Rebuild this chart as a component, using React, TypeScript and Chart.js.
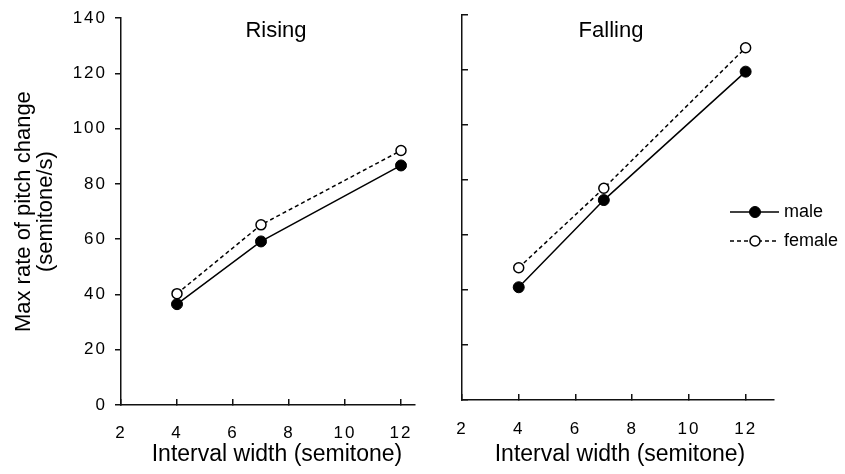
import { useEffect, useRef } from 'react';
import { Chart, registerables } from 'chart.js';

Chart.register(...registerables);

// ---- data ----
const intervals = [4, 7, 12];
const risingMale = [36.5, 59.2, 86.7];
const risingFemale = [40.3, 65.2, 92.1];
const fallingMale = [41.0, 72.7, 119.4];
const fallingFemale = [48.1, 77.0, 128.1];
const xTickValues = [2, 4, 6, 8, 10, 12];
const yTickValues = [0, 20, 40, 60, 80, 100, 120, 140];
const seriesNames = ['male', 'female'];
const panelTitles = ['Rising', 'Falling'];
const xTitle = 'Interval width (semitone)';
const yTitle = ['Max rate of pitch change', '(semitone/s)'];

const FONT = "'Liberation Sans', Arial, Helvetica, sans-serif";
const INK = '#111';

function makeDatasets(male: number[], female: number[]) {
  return [
    {
      label: seriesNames[0],
      data: intervals.map((x, i) => ({ x, y: male[i] })),
      borderColor: '#000',
      borderWidth: 1.5,
      pointRadius: 5.5,
      pointBackgroundColor: '#000',
      pointBorderColor: '#000',
      pointBorderWidth: 1,
      clip: false,
    },
    {
      label: seriesNames[1],
      data: intervals.map((x, i) => ({ x, y: female[i] })),
      borderColor: '#000',
      borderWidth: 1.5,
      borderDash: [4, 3],
      pointRadius: 5,
      pointBackgroundColor: '#fff',
      pointBorderColor: '#000',
      pointBorderWidth: 1.5,
      clip: false,
    },
  ];
}

function makeXScale(max: number, height: number, pad: number) {
  return {
    type: 'linear',
    position: 'bottom',
    min: 2,
    max,
    afterBuildTicks: (s: any) => {
      s.ticks = xTickValues.map((v) => ({ value: v }));
    },
    afterFit: (s: any) => {
      s.height = height;
    },
    grid: { drawOnChartArea: false, drawTicks: true, tickLength: -6, color: INK, lineWidth: 1.5 },
    border: { display: true, color: INK, width: 1.5 },
    ticks: { padding: pad, z: 1, font: { size: 17 }, color: '#000', maxRotation: 0, autoSkip: false },
  };
}

function makeYScale(width: number, showLabels: boolean, tickLength: number) {
  return {
    type: 'linear',
    min: 0,
    max: 140,
    afterBuildTicks: (s: any) => {
      s.ticks = yTickValues.map((v) => ({ value: v }));
    },
    afterFit: (s: any) => {
      s.width = width;
    },
    grid: { drawOnChartArea: false, drawTicks: true, tickLength, color: INK, lineWidth: 1.5 },
    border: { display: true, color: INK, width: 1.5 },
    ticks: { display: showLabels, padding: 8, z: 1, font: { size: 17 }, color: '#000' },
    title: {
      display: showLabels,
      text: yTitle,
      font: { size: 22, lineHeight: 1 },
      padding: { top: 13, bottom: 0 },
      color: '#000',
    },
  };
}

function textPlugin(title: string, titlePos: [number, number], xTitlePos: [number, number], legend: boolean) {
  return {
    id: 'panelText',
    beforeDraw(chart: any) {
      chart.ctx.letterSpacing = '0px';
    },
    afterDatasetsDraw(chart: any) {
      chart.ctx.letterSpacing = '2px';
    },
    afterDraw(chart: any) {
      const ctx = chart.ctx;
      ctx.save();
      ctx.letterSpacing = '0px';
      ctx.fillStyle = '#000';
      ctx.textAlign = 'center';
      ctx.textBaseline = 'middle';
      ctx.font = `22px ${FONT}`;
      ctx.fillText(title, titlePos[0], titlePos[1]);
      ctx.font = `23px ${FONT}`;
      ctx.fillText(xTitle, xTitlePos[0], xTitlePos[1]);
      if (legend) {
        const rows = [212, 241];
        chart.data.datasets.forEach((ds: any, i: number) => {
          const y = rows[i];
          ctx.strokeStyle = ds.borderColor;
          ctx.lineWidth = ds.borderWidth;
          ctx.setLineDash(ds.borderDash || []);
          ctx.beginPath();
          ctx.moveTo(730, y);
          ctx.lineTo(779, y);
          ctx.stroke();
          ctx.setLineDash([]);
          ctx.beginPath();
          ctx.arc(755, y, ds.pointRadius, 0, Math.PI * 2);
          ctx.fillStyle = ds.pointBackgroundColor;
          ctx.fill();
          ctx.lineWidth = ds.pointBorderWidth;
          ctx.strokeStyle = ds.pointBorderColor;
          ctx.stroke();
          ctx.fillStyle = '#000';
          ctx.textAlign = 'left';
          ctx.font = `18px ${FONT}`;
          ctx.fillText(ds.label, 784, y);
        });
      }
      ctx.restore();
    },
  };
}

export default function App() {
  const leftRef = useRef<HTMLCanvasElement>(null);
  const rightRef = useRef<HTMLCanvasElement>(null);

  useEffect(() => {
    Chart.defaults.font.family = FONT;
    Chart.defaults.color = '#000';
    const common = {
      responsive: false,
      animation: false,
      events: [],
      plugins: { legend: { display: false }, tooltip: { enabled: false } },
    };
    const left = new Chart(leftRef.current as HTMLCanvasElement, {
      type: 'line',
      data: { datasets: makeDatasets(risingMale, risingFemale) as any },
      options: {
        ...common,
        layout: { padding: { left: 0, top: 15, right: 430, bottom: 0 } },
        scales: { x: makeXScale(12.5, 69, 24), y: makeYScale(121, true, 6) } as any,
      } as any,
      plugins: [textPlugin(panelTitles[0], [276, 31], [277, 455], false)],
    });
    const right = new Chart(rightRef.current as HTMLCanvasElement, {
      type: 'line',
      data: { datasets: makeDatasets(fallingMale, fallingFemale) as any },
      options: {
        ...common,
        layout: { padding: { left: 452, top: 15, right: 71, bottom: 0 } },
        scales: { x: makeXScale(13, 74, 25), y: makeYScale(10, false, -6) } as any,
      } as any,
      plugins: [textPlugin(panelTitles[1], [611, 31], [620, 455], true)],
    });
    return () => {
      left.destroy();
      right.destroy();
    };
  }, []);

  const canvasStyle: any = { position: 'absolute', left: 0, top: 0, width: 845, height: 474 };
  return (
    <div style={{ position: 'absolute', left: 0, top: 0, width: 845, height: 474, background: '#fff' }}>
      <canvas ref={leftRef} width={845} height={474} style={canvasStyle} />
      <canvas ref={rightRef} width={845} height={474} style={canvasStyle} />
    </div>
  );
}
